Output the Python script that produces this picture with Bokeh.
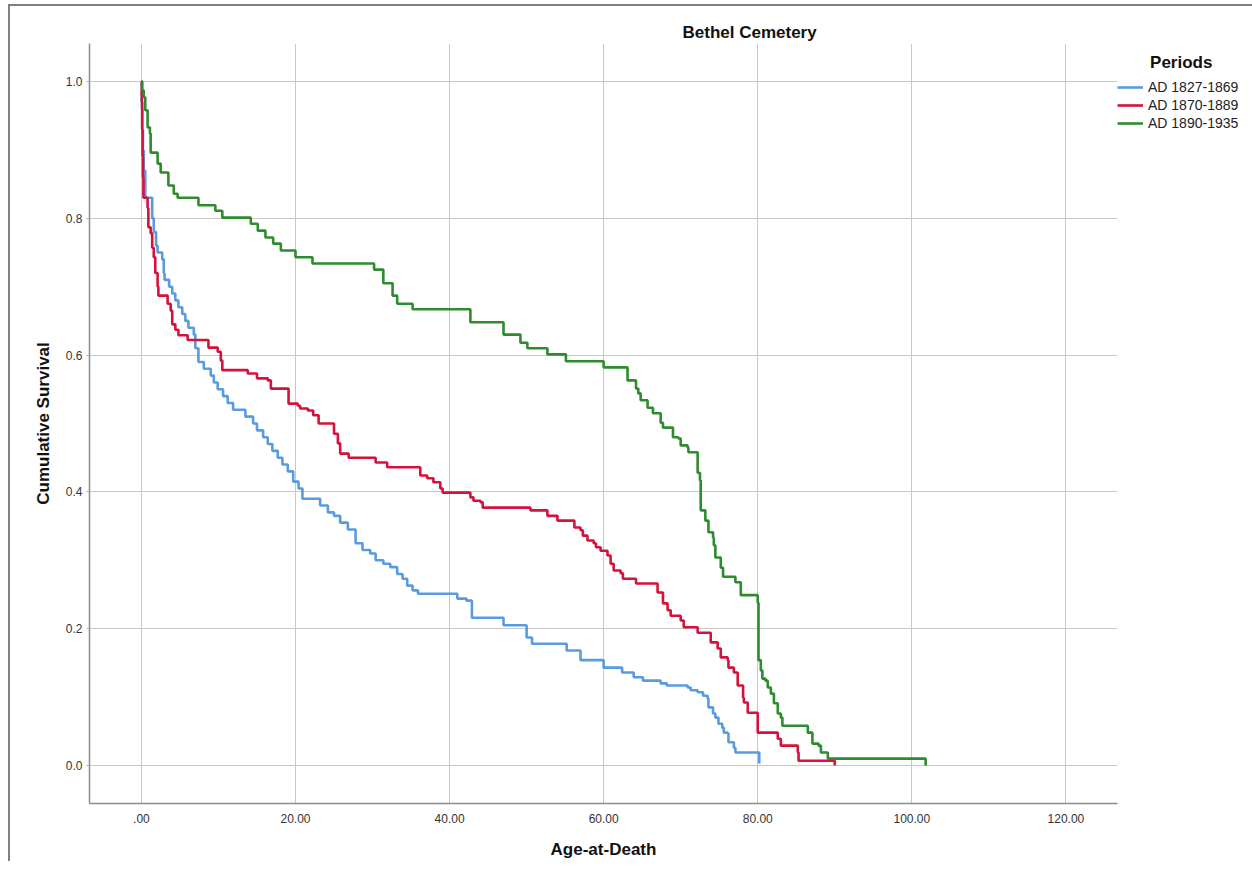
from bokeh.plotting import figure
from bokeh.models import Range1d, FixedTicker, NumeralTickFormatter, Legend, LegendItem
from bokeh.embed import file_html
from bokeh.resources import INLINE

# ---------------- data ----------------
chart_title = "Bethel Cemetery"
x_label = "Age-at-Death"
y_label = "Cumulative Survival"
legend_title = "Periods"

periods = ["AD 1827-1869", "AD 1870-1889", "AD 1890-1935"]

x_ticks = [0, 20, 40, 60, 80, 100, 120]
x_tick_labels = [".00", "20.00", "40.00", "60.00", "80.00", "100.00", "120.00"]
y_ticks = [0.0, 0.2, 0.4, 0.6, 0.8, 1.0]

blue_age = [0.05, 0.1, 0.2, 0.3, 0.5, 1.4, 1.6, 1.9, 2.1, 2.7, 2.9, 3.0, 3.6, 4.0, 4.4,
            4.8, 5.3, 5.7, 6.1, 6.8, 7.0, 7.4, 8.1, 9.0, 9.4, 9.9, 10.6, 11.2, 11.9, 13.5,
            14.5, 15.0, 15.8, 16.4, 17.0, 17.7, 18.3, 19.0, 19.7, 20.4, 20.9, 23.2, 24.2,
            25.0, 25.8, 26.8, 27.8, 28.7, 29.7, 30.4, 31.4, 32.3, 33.2, 33.9, 34.5, 35.2,
            35.9, 41.0, 42.2, 42.9, 47.0, 50.0, 50.7, 55.2, 57.0, 60.0, 62.4, 63.9, 65.1,
            67.4, 68.2, 70.9, 71.3, 72.2, 72.9, 73.5, 73.6, 74.2, 74.5, 74.9, 75.4, 75.6,
            76.1, 76.2, 76.9, 77.1, 80.2]
blue_surv = [0.96, 0.93, 0.90, 0.87, 0.83, 0.80, 0.78, 0.76, 0.75, 0.74, 0.72, 0.71, 0.70,
             0.69, 0.68, 0.67, 0.66, 0.65, 0.64, 0.63, 0.61, 0.59, 0.58, 0.57, 0.56, 0.55,
             0.54, 0.53, 0.52, 0.51, 0.50, 0.49, 0.48, 0.47, 0.46, 0.45, 0.44, 0.43, 0.415,
             0.405, 0.39, 0.38, 0.37, 0.365, 0.355, 0.345, 0.325, 0.315, 0.31, 0.30, 0.295,
             0.29, 0.28, 0.273, 0.263, 0.256, 0.251, 0.244, 0.241, 0.216, 0.205, 0.187,
             0.178, 0.168, 0.154, 0.143, 0.136, 0.129, 0.124, 0.12, 0.117, 0.114, 0.11,
             0.107, 0.102, 0.098, 0.085, 0.076, 0.07, 0.061, 0.055, 0.048, 0.047, 0.034,
             0.026, 0.019, 0.003]

red_age = [0.05, 0.1, 0.15, 0.2, 0.26, 0.8, 0.9, 1.2, 1.4, 1.6, 1.8, 2.1, 2.2, 3.4, 3.8,
           4.0, 4.4, 4.8, 6.0, 8.7, 9.9, 10.3, 10.5, 13.8, 15.0, 16.4, 16.8, 19.1, 20.3,
           20.6, 21.6, 22.3, 23.0, 25.0, 25.5, 25.8, 26.9, 30.4, 31.9, 36.2, 37.1, 37.9,
           38.8, 39.1, 42.7, 43.1, 44.0, 44.3, 50.5, 52.7, 54.0, 56.2, 57.0, 57.3, 57.9,
           58.7, 59.0, 59.6, 60.5, 60.9, 61.3, 62.2, 62.5, 64.2, 67.0, 67.7, 68.3, 68.7,
           70.0, 70.4, 72.2, 73.9, 74.8, 75.2, 76.1, 76.2, 76.9, 77.4, 78.1, 78.2, 78.7,
           80.0, 82.6, 83.0, 85.2, 85.3, 90.0]
red_surv = [0.97, 0.93, 0.89, 0.86, 0.83, 0.815, 0.787, 0.778, 0.757, 0.743, 0.72, 0.70,
            0.687, 0.675, 0.665, 0.645, 0.637, 0.629, 0.622, 0.611, 0.605, 0.592, 0.578,
            0.573, 0.566, 0.563, 0.551, 0.529, 0.526, 0.522, 0.519, 0.512, 0.50, 0.485,
            0.471, 0.456, 0.45, 0.443, 0.436, 0.424, 0.42, 0.414, 0.405, 0.399, 0.392,
            0.387, 0.385, 0.377, 0.373, 0.365, 0.358, 0.348, 0.344, 0.336, 0.329, 0.325,
            0.319, 0.314, 0.307, 0.295, 0.285, 0.281, 0.273, 0.266, 0.253, 0.237, 0.227,
            0.219, 0.212, 0.202, 0.194, 0.18, 0.171, 0.158, 0.154, 0.143, 0.136, 0.117,
            0.099, 0.092, 0.077, 0.048, 0.039, 0.029, 0.019, 0.007, 0.0]

green_age = [0.1, 0.3, 0.5, 0.8, 1.1, 1.2, 2.1, 2.5, 3.5, 4.2, 4.7, 7.4, 9.6, 10.5, 14.2,
             15.1, 16.1, 17.1, 18.1, 20.0, 22.2, 30.2, 31.4, 32.6, 33.2, 35.2, 42.7, 47.0,
             49.2, 50.1, 52.7, 55.1, 60.0, 63.1, 64.2, 64.5, 64.8, 65.7, 66.4, 67.4, 67.7,
             69.0, 69.7, 70.0, 70.9, 71.0, 72.2, 72.5, 72.6, 73.2, 73.6, 74.2, 74.3, 74.5,
             75.2, 75.5, 77.1, 77.8, 80.0, 80.1, 80.4, 80.6, 81.0, 81.3, 81.7, 82.1, 82.6,
             83.0, 83.2, 86.5, 87.1, 87.9, 88.2, 89.1, 101.8]
green_surv = [0.987, 0.977, 0.958, 0.933, 0.924, 0.896, 0.88, 0.867, 0.848, 0.836, 0.83,
              0.819, 0.811, 0.801, 0.792, 0.782, 0.772, 0.763, 0.753, 0.743, 0.734, 0.725,
              0.705, 0.687, 0.675, 0.667, 0.648, 0.630, 0.618, 0.610, 0.601, 0.591, 0.582,
              0.563, 0.551, 0.544, 0.534, 0.523, 0.515, 0.501, 0.494, 0.48, 0.478, 0.468,
              0.465, 0.458, 0.428, 0.417, 0.373, 0.358, 0.341, 0.333, 0.322, 0.304, 0.289,
              0.276, 0.268, 0.249, 0.238, 0.154, 0.139, 0.127, 0.124, 0.114, 0.105, 0.091,
              0.076, 0.070, 0.058, 0.048, 0.032, 0.029, 0.019, 0.010, 0.0]

series_age = [blue_age, red_age, green_age]
series_surv = [blue_surv, red_surv, green_surv]
colors = ["#5a9be0", "#d4133c", "#2e8b2e"]

# ---------------- figure ----------------
FONT = "Liberation Sans"

p = figure(frame_width=1028, frame_height=760,
           x_range=Range1d(-6.74, 126.7), y_range=Range1d(-0.0556, 1.0556),
           output_backend="svg", toolbar_location=None,
           min_border_left=79, min_border_top=37, min_border_bottom=58,
           min_border_right=120, title=chart_title)
p.styles = {"border-left": "2px solid #808080", "border-top": "2px solid #808080",
            "margin-left": "8px", "margin-top": "4px"}
p.outline_line_color = None
p.background_fill_color = "white"
p.border_fill_color = "white"

p.title.text_font = FONT
p.title.text_font_size = "17px"
p.title.text_font_style = "bold"
p.title.text_color = "#111111"
p.title.align = "left"
p.title.offset = 593
p.title.standoff = 4

for ax in (p.xaxis[0], p.yaxis[0]):
    ax.axis_line_color = "#8c8c8c"
    ax.axis_line_width = 1.5
    ax.major_label_text_font = FONT
    ax.major_label_text_font_size = "12px"
    ax.major_label_text_color = "#333333"
    ax.axis_label_text_font = FONT
    ax.axis_label_text_font_size = "17px"
    ax.axis_label_text_font_style = "bold"
    ax.axis_label_text_color = "#111111"
    ax.minor_tick_line_color = None

p.xaxis.ticker = FixedTicker(ticks=x_ticks)
p.xaxis.major_label_overrides = {t: lab for t, lab in zip(x_ticks, x_tick_labels)}
p.xaxis.major_tick_line_color = None
p.xaxis.major_tick_out = 0
p.xaxis.major_tick_in = 0
p.xaxis.major_label_standoff = 10
p.xaxis.axis_label = x_label
p.xaxis.axis_label_standoff = 14

p.yaxis.ticker = FixedTicker(ticks=y_ticks)
p.yaxis.formatter = NumeralTickFormatter(format="0.0")
p.yaxis.major_tick_line_color = "#b0b0b0"
p.yaxis.major_tick_out = 3
p.yaxis.major_tick_in = 0
p.yaxis.major_label_standoff = 4
p.yaxis.axis_label = y_label
p.yaxis.axis_label_standoff = 10

p.xgrid.grid_line_color = "#c8c8c8"
p.ygrid.grid_line_color = "#c8c8c8"
p.xgrid.grid_line_width = 1
p.ygrid.grid_line_width = 1

items = []
for name, ages, surv, col in zip(periods, series_age, series_surv, colors):
    xs = [0.0] + ages
    ys = [1.0] + surv
    r = p.step(xs, ys, mode="after", line_color=col, line_width=2.6)
    items.append(LegendItem(label=name, renderers=[r]))

# heading indented with no-break spaces so it sits over the labels, as in the reference
legend = Legend(items=items, location=(0, 672), title="\u00a0" * 7 + legend_title,
                title_text_font=FONT, title_text_font_size="17px",
                title_text_font_style="bold", title_text_color="#111111",
                title_standoff=6, margin=0, padding=3, spacing=2,
                label_height=16, glyph_height=16, glyph_width=26, label_standoff=5,
                label_text_font=FONT, label_text_font_size="14px",
                label_text_color="#222222",
                border_line_color=None, background_fill_alpha=0)
p.add_layout(legend, "right")

open("out.html", "w").write(file_html(p, INLINE))
